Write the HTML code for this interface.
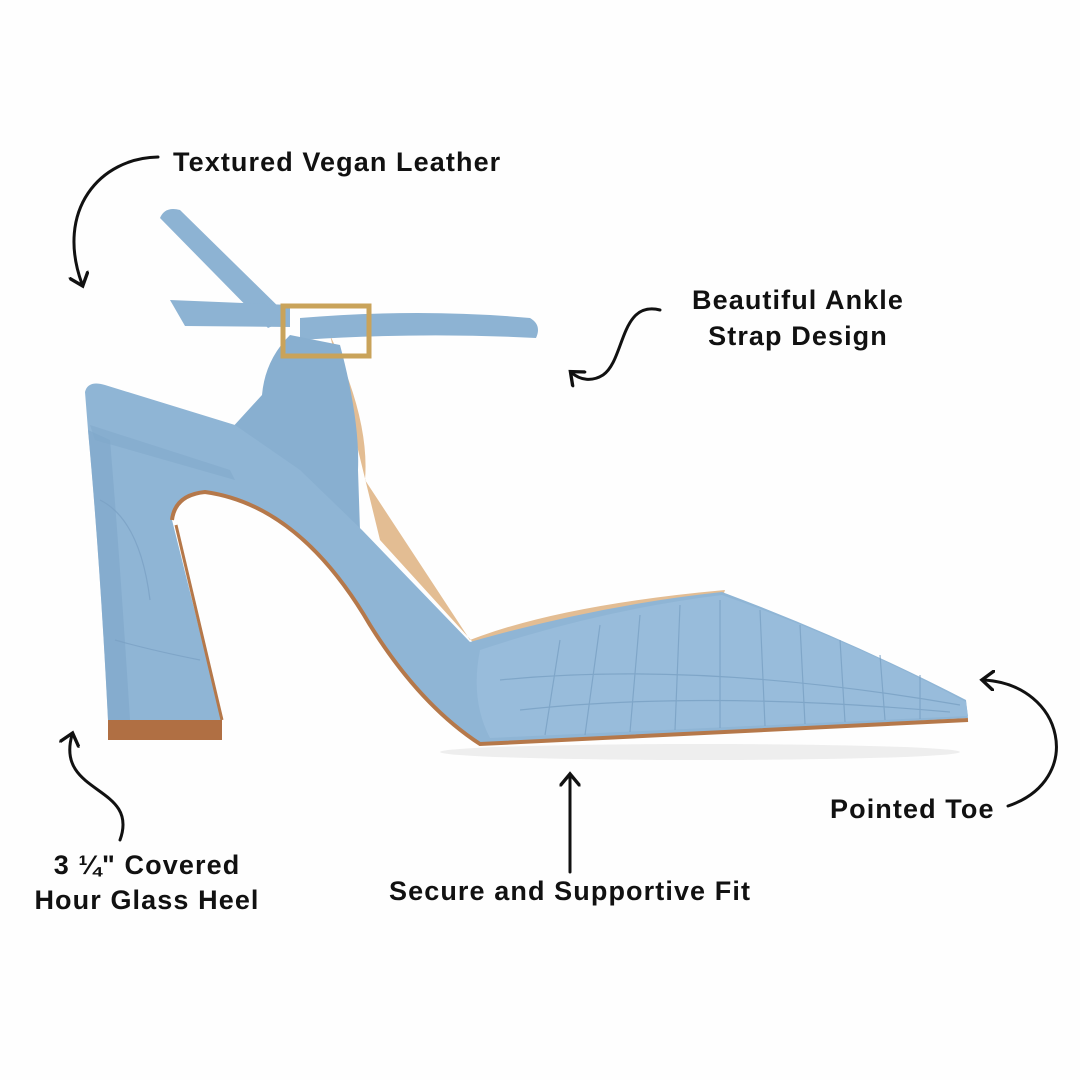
<!DOCTYPE html>
<html><head><meta charset="utf-8"><style>
html,body{margin:0;padding:0;background:#fff}
svg{display:block}
text{font-family:"Liberation Sans",sans-serif;font-weight:bold;font-size:27px;letter-spacing:1.1px;fill:#111}
</style></head><body>
<svg width="1080" height="1080" viewBox="0 0 1080 1080" xmlns="http://www.w3.org/2000/svg">
<rect width="1080" height="1080" fill="#fefefe"/>
<defs>
<marker id="ah" viewBox="0 0 10 10" refX="5" refY="5" markerWidth="7" markerHeight="7" orient="auto-start-reverse">
<path d="M0,0 L6,5 L0,10" fill="none" stroke="#111" stroke-width="1.6"/>
</marker>
</defs>
<ellipse cx="700" cy="752" rx="260" ry="8" fill="#eee"/>
<path d="M160,218 Q165,206 180,210 L290,318 L268,328 Z" fill="#8db3d3"/>
<path d="M330,335 Q370,420 365,480 L470,640 Q560,605 725,590 L720,605 Q600,615 480,650 L380,540 Z" fill="#e3bd93"/>
<path d="M300,318 Q420,308 530,318 Q542,325 536,338 Q420,332 300,340 Z" fill="#8db3d3"/>
<path d="M170,300 L290,305 L290,327 L185,326 Z" fill="#8db3d3"/>
<path d="M262,395 Q265,360 290,335 L340,345 Q360,420 358,470 L360,530 L300,500 L230,430 Z" fill="#88afd0"/>
<path d="M85,392 Q88,380 105,385 L235,425 L300,470 L362,530 L470,642 Q600,605 722,592 Q850,640 966,700 L968,718 L480,744 Q420,705 370,625 Q300,505 205,492 Q175,495 172,520 L222,720 L108,720 Q100,560 88,430 Z" fill="#8fb5d5"/>
<path d="M88,430 Q100,560 108,720 L130,720 Q120,560 110,440 Z" fill="#7fa7ca" opacity="0.6"/>
<path d="M90,425 L230,470 L235,480 L95,440 Z" fill="#7fa7ca" opacity="0.5"/>
<path d="M480,650 Q600,610 722,595 Q850,640 966,702 L968,716 L490,738 Q470,700 480,650 Z" fill="#98bcdb"/>
<path d="M172,520 Q175,495 205,492 Q300,505 370,625 Q420,705 480,744 L968,720" fill="none" stroke="#b5784a" stroke-width="4"/>
<path d="M176,525 L222,720" fill="none" stroke="#b5784a" stroke-width="3"/>
<rect x="108" y="720" width="114" height="20" fill="#b06f43"/>
<rect x="283" y="306" width="86" height="50" fill="none" stroke="#c9a35a" stroke-width="5"/>
<g stroke="#7aa1c4" stroke-width="1.2" fill="none" opacity="0.8">
<path d="M560,640 L545,735 M600,625 L585,735 M640,615 L630,732 M680,605 L675,730 M720,600 L720,728 M760,610 L765,726 M800,625 L805,724 M840,640 L845,722 M880,655 L885,720 M920,675 L920,719"/>
<path d="M500,680 Q700,660 960,705 M520,710 Q700,690 950,712"/>
<path d="M100,500 Q140,520 150,600 M115,640 Q150,650 200,660"/>
</g>
<text x="173" y="171">Textured Vegan Leather</text>
<text x="798" y="309" text-anchor="middle">Beautiful Ankle</text>
<text x="798" y="345" text-anchor="middle">Strap Design</text>
<text x="830" y="818">Pointed Toe</text>
<text x="147" y="874" text-anchor="middle">3 ¼" Covered</text>
<text x="147" y="909" text-anchor="middle">Hour Glass Heel</text>
<text x="389" y="900">Secure and Supportive Fit</text>
<g fill="none" stroke="#111" stroke-width="3" stroke-linecap="round">
<path d="M158,157 C100,158 55,210 82,284" marker-end="url(#ah)"/>
<path d="M660,310 C620,300 625,360 603,375 C592,382 580,380 572,373" marker-end="url(#ah)"/>
<path d="M1008,806 C1085,780 1065,685 984,680" marker-end="url(#ah)"/>
<path d="M120,840 C140,785 55,795 72,735" marker-end="url(#ah)"/>
<path d="M570,872 L570,776" marker-end="url(#ah)"/>
</g>
</svg>
</body></html>
